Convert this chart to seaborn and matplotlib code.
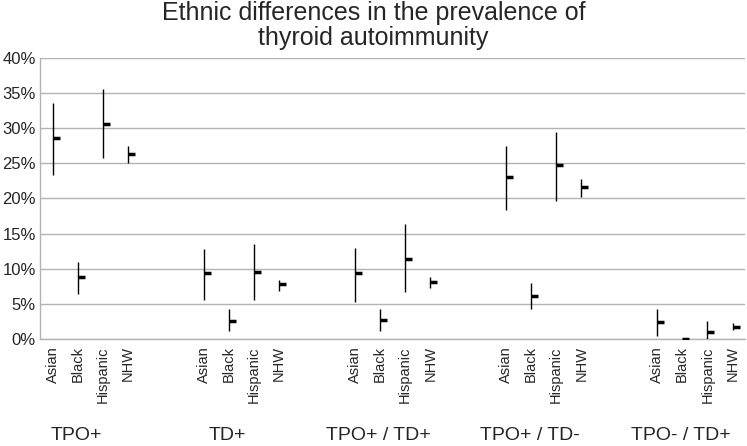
import numpy as np
import pandas as pd
import matplotlib
matplotlib.use("Agg")
import matplotlib.pyplot as plt
import matplotlib.transforms as mtransforms
import seaborn as sns

# Prevalence (%) by antibody group and ethnicity: low / mean / high
groups = ["TPO+", "TD+", "TPO+ / TD+", "TPO+ / TD-", "TPO- / TD+"]
ethnicities = ["Asian", "Black", "Hispanic", "NHW"]

mean_vals = [
    [28.6, 8.8, 30.6, 26.3],
    [9.4, 2.6, 9.6, 7.8],
    [9.4, 2.8, 11.4, 8.2],
    [23.1, 6.2, 24.7, 21.6],
    [2.4, 0.0, 1.0, 1.8],
]
low_vals = [
    [23.4, 6.5, 25.7, 25.0],
    [5.6, 1.2, 5.6, 6.9],
    [5.3, 1.2, 6.7, 7.3],
    [18.4, 4.3, 19.7, 20.2],
    [0.5, 0.0, 0.0, 1.3],
]
high_vals = [
    [33.6, 11.0, 35.5, 27.5],
    [12.8, 4.3, 13.5, 8.5],
    [13.0, 4.3, 16.4, 8.8],
    [27.5, 8.0, 29.5, 22.7],
    [4.3, 0.1, 2.6, 2.3],
]

slots_per_group = 6

rows = []
for g, grp in enumerate(groups):
    for e, eth in enumerate(ethnicities):
        rows.append({
            "group": grp, "ethnicity": eth,
            "pos": g * slots_per_group + e,
            "low": low_vals[g][e], "mean": mean_vals[g][e], "high": high_vals[g][e],
        })
df = pd.DataFrame(rows)

sns.set_style("white")
plt.rcParams["font.family"] = ["Liberation Sans", "DejaVu Sans"]

fig = plt.figure(figsize=(7.47, 4.46), dpi=100)
ax = fig.add_axes([0.0535, 0.239, 0.944, 0.632])

grid_col = "#b3b3b3"
ax.set_ylim(0, 40)
ax.set_xlim(-0.5, len(groups) * slots_per_group - 2 - 0.5)
ax.set_yticks(np.arange(0, 41, 5))
ax.set_yticklabels([f"{v}%" for v in range(0, 41, 5)], fontsize=12)
ax.yaxis.grid(True, color=grid_col, linewidth=1)
ax.set_axisbelow(True)

# high-low lines and mean ticks
ax.vlines(df["pos"], df["low"], df["high"], color="black", linewidth=1, zorder=3)
sns.scatterplot(data=df, x="pos", y="mean", marker=1, s=25, color="black",
                linewidth=2.5, ax=ax, zorder=4, legend=False)

ax.set_xticks(df["pos"])
ax.set_xticklabels(df["ethnicity"], rotation=90, fontsize=10.5)
ax.tick_params(axis="x", length=0, pad=5)
ax.tick_params(axis="y", length=0, pad=3)
ax.set_xlabel("")
ax.set_ylabel("")

for side in ["top", "right"]:
    ax.spines[side].set_visible(False)
for side in ["left", "bottom"]:
    ax.spines[side].set_color(grid_col)
    ax.spines[side].set_linewidth(1)

trans = mtransforms.blended_transform_factory(ax.transData, ax.transAxes)
for g, grp in enumerate(groups):
    ax.text(g * slots_per_group + 0.95, -0.34, grp, transform=trans,
            ha="center", va="center", fontsize=14)

fig.text(0.5, 0.942, "Ethnic differences in the prevalence of\nthyroid autoimmunity",
         ha="center", va="center", fontsize=18, linespacing=1.05)

fig.savefig("out.png", dpi=100)
